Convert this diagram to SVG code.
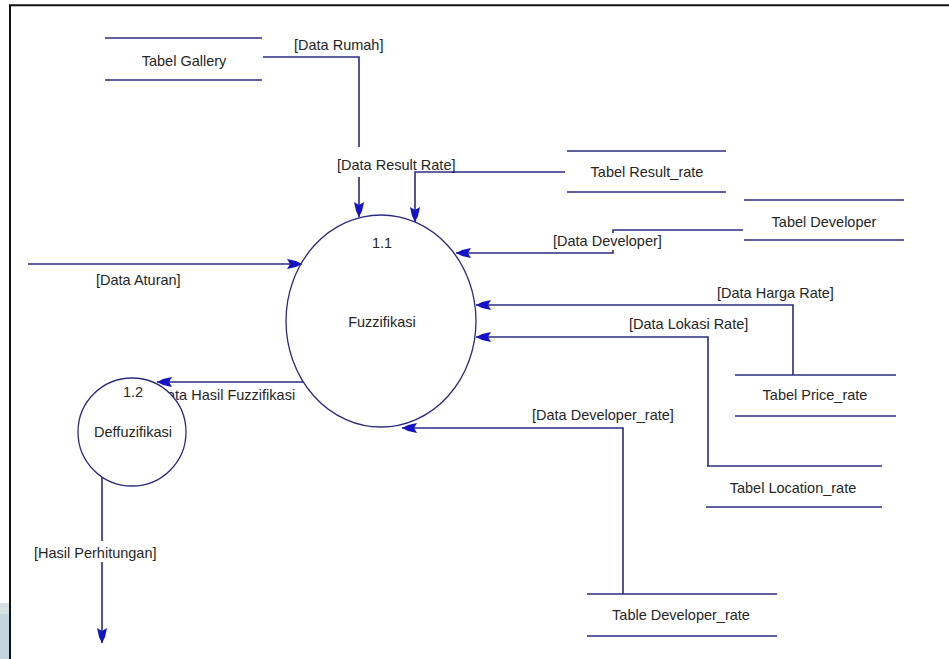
<svg xmlns="http://www.w3.org/2000/svg" width="949" height="659" viewBox="0 0 949 659">
  <style>
    text { font-family: "Liberation Sans", Arial, sans-serif; font-size: 14.5px; fill: #262626; }
    .mid { text-anchor: middle; }
    .flow { fill: none; stroke: #2b2b82; stroke-width: 1.6; }
    .store line { stroke: #2b2b82; stroke-width: 1.6; }
    .proc { fill: #ffffff; stroke: #2b2b82; stroke-width: 1.3; }
    .mask { fill: #ffffff; }
  </style>
  <defs>
    <marker id="arrow" markerUnits="userSpaceOnUse" markerWidth="20" markerHeight="14" viewBox="-18 -7 20 14" refX="0" refY="0" orient="auto" overflow="visible">
      <path d="M0,0 L-6,-3 L-15,-5 L-12,0 L-15,5 L-6,3 Z" fill="#1414c4"/>
    </marker>
  </defs>

  <!-- page background and frame -->
  <rect x="0" y="0" width="949" height="659" fill="#ffffff"/>
  <rect x="0" y="603" width="9" height="11" fill="#d6e1e6"/>
  <rect x="0" y="614" width="9" height="45" fill="#c4d5dd"/>
  <line x1="9" y1="5.3" x2="949" y2="5.3" stroke="#111" stroke-width="2"/>
  <line x1="10" y1="5" x2="10" y2="659" stroke="#111" stroke-width="2"/>

  <!-- data flows -->
  <g id="connectors">
    <path class="flow" d="M263,57 H359 V217" marker-end="url(#arrow)"/>
    <rect class="mask" x="335" y="147" width="130" height="30"/>
    <path class="flow" d="M565,172 H415 V222" marker-end="url(#arrow)"/>
    <path class="flow" d="M743,230 H613 V253 H456" marker-end="url(#arrow)"/>
    <rect class="mask" x="606" y="233" width="14" height="17"/>
    <path class="flow" d="M793,375 V305 H476" marker-end="url(#arrow)"/>
    <path class="flow" d="M708,466 V337 H476" marker-end="url(#arrow)"/>
    <path class="flow" d="M623,594 V428 H402" marker-end="url(#arrow)"/>
    <path class="flow" d="M28,264 H302" marker-end="url(#arrow)"/>
    <path class="flow" d="M303,382 H157" marker-end="url(#arrow)"/>
    <path class="flow" d="M102,477 V643" marker-end="url(#arrow)"/>
    <rect class="mask" x="96" y="541" width="12" height="21"/>

    <text x="294" y="50">[Data Rumah]</text>
    <text x="337" y="170">[Data Result Rate]</text>
    <text x="553" y="246">[Data Developer]</text>
    <text x="717" y="298">[Data Harga Rate]</text>
    <text x="629" y="329">[Data Lokasi Rate]</text>
    <text x="532" y="420">[Data Developer_rate]</text>
    <text x="96" y="285">[Data Aturan]</text>
    <text x="167" y="400">ata Hasil Fuzzifikasi</text>
    <text x="34" y="558">[Hasil Perhitungan]</text>
  </g>

  <!-- processes -->
  <g id="proc-1-1">
    <ellipse class="proc" cx="381" cy="321" rx="95" ry="106" fill-opacity="0"/>
    <text class="mid" x="382" y="248">1.1</text>
    <text class="mid" x="382" y="327">Fuzzifikasi</text>
  </g>
  <g id="proc-1-2">
    <circle class="proc" cx="132" cy="432" r="54"/>
    <text class="mid" x="133" y="397">1.2</text>
    <text class="mid" x="133" y="437">Deffuzifikasi</text>
  </g>

  <!-- data stores -->
  <g id="store-gallery" class="store">
    <line x1="105" y1="38" x2="262" y2="38"/>
    <line x1="105" y1="80" x2="262" y2="80"/>
    <text class="mid" x="184" y="66">Tabel Gallery</text>
  </g>
  <g id="store-result-rate" class="store">
    <line x1="567" y1="151" x2="726" y2="151"/>
    <line x1="567" y1="192" x2="726" y2="192"/>
    <text class="mid" x="647" y="177">Tabel Result_rate</text>
  </g>
  <g id="store-developer" class="store">
    <line x1="744" y1="200" x2="904" y2="200"/>
    <line x1="744" y1="240" x2="904" y2="240"/>
    <text class="mid" x="824" y="227">Tabel Developer</text>
  </g>
  <g id="store-price-rate" class="store">
    <line x1="735" y1="375" x2="896" y2="375"/>
    <line x1="735" y1="416" x2="896" y2="416"/>
    <text class="mid" x="815" y="400">Tabel Price_rate</text>
  </g>
  <g id="store-location-rate" class="store">
    <line x1="707" y1="466" x2="882" y2="466"/>
    <line x1="706" y1="507" x2="882" y2="507"/>
    <text class="mid" x="793" y="493">Tabel Location_rate</text>
  </g>
  <g id="store-developer-rate" class="store">
    <line x1="587" y1="594" x2="777" y2="594"/>
    <line x1="587" y1="636" x2="777" y2="636"/>
    <text class="mid" x="681" y="620">Table Developer_rate</text>
  </g>
</svg>
